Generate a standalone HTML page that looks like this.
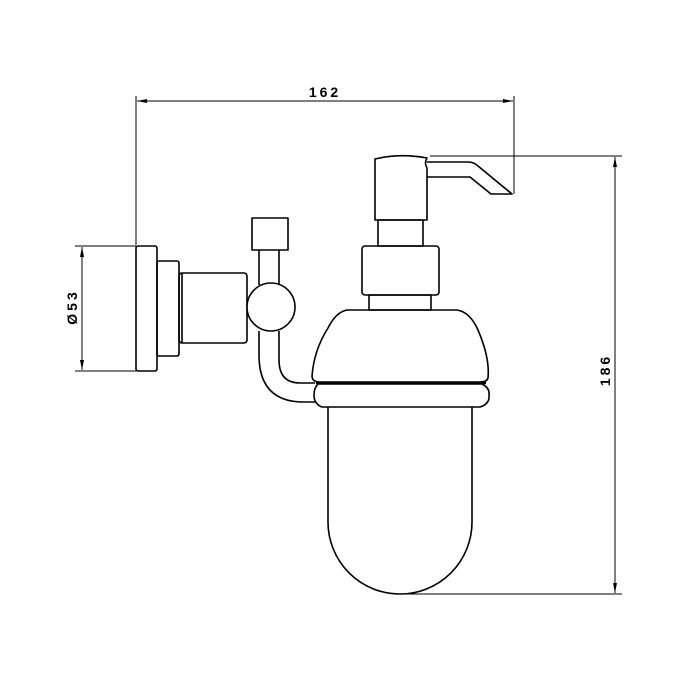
<!DOCTYPE html>
<html><head><style>body{margin:0;background:#fff}svg{display:block}</style></head><body>
<svg width="700" height="700" viewBox="0 0 700 700" xmlns="http://www.w3.org/2000/svg">
<defs><marker id="a" viewBox="0 0 10 4" refX="10" refY="2" markerWidth="10" markerHeight="4" orient="auto-start-reverse" markerUnits="userSpaceOnUse"><path d="M0,0L10,2L0,4z" fill="#000"/></marker></defs>
<g fill="none" stroke="#000" stroke-width="1">
<!-- dimension 162 -->
<line x1="136" y1="96" x2="136" y2="245"/>
<line x1="514" y1="96" x2="514" y2="194"/>
<line x1="137" y1="101" x2="513" y2="101" marker-start="url(#a)" marker-end="url(#a)"/>
<!-- dimension 186 -->
<line x1="430" y1="156" x2="622" y2="156"/>
<line x1="400" y1="594" x2="622" y2="594"/>
<line x1="615" y1="157" x2="615" y2="593" marker-start="url(#a)" marker-end="url(#a)"/>
<!-- dimension 53 -->
<line x1="75" y1="246" x2="136" y2="246"/>
<line x1="75" y1="371" x2="136" y2="371"/>
<line x1="82" y1="247" x2="82" y2="370" marker-start="url(#a)" marker-end="url(#a)"/>
</g>
<g fill="none" stroke="#000" stroke-width="1.6" stroke-linejoin="round">
<rect x="136" y="246" width="21" height="125" rx="2"/>
<rect x="157" y="261" width="22" height="95" rx="2"/>
<rect x="179" y="273" width="68" height="70" rx="3"/>
<line x1="182" y1="273" x2="182" y2="343"/>
<rect x="252" y="218" width="36" height="32"/>
<line x1="259" y1="250" x2="259" y2="285"/>
<line x1="279" y1="250" x2="279" y2="285"/>
<circle cx="271" cy="307" r="24" fill="#fff"/>
<path d="M259,331 L259,355 Q259,400 300,402 L315,402"/>
<path d="M279,331 L279,360 Q279,383 300,383 L315,383"/>
<!-- pump -->
<path d="M375,220 L375,159 Q400,153 427,158 Q424,163 427,168 L427,220 Z"/>
<path d="M427,162 L468,162 Q474,162 478,166 L512,194 L491,194 L470,177 L427,177"/>
<rect x="378" y="220" width="45" height="26"/>
<rect x="362" y="246" width="77" height="49" rx="3"/>
<rect x="369" y="295" width="62" height="15"/>
<path d="M347,310 L457,310 Q470,312 478,330 Q490,358 488,378 Q487,382 480,382 L320,382 Q312,382 312,376 Q314,350 328,328 Q336,312 347,310 Z"/>
<path d="M318,384 L482,384 Q490,388 489,395 Q490,404 480,407 L322,407 Q314,404 314,395 Q314,388 318,384 Z"/>
<line x1="316" y1="383" x2="486" y2="383" stroke-width="2.5"/>
<path d="M328,407 L328,522 A72,72 0 0 0 472,522 L472,407"/>
</g>
<g font-family="Liberation Sans, sans-serif" font-size="14" font-weight="bold" fill="#000" letter-spacing="3">
<text x="325" y="97" text-anchor="middle">162</text>
<text transform="translate(610,370) rotate(-90)" text-anchor="middle">186</text>
<text transform="translate(77,307) rotate(-90)" text-anchor="middle">Ø53</text>
</g>
</svg>
</body></html>
